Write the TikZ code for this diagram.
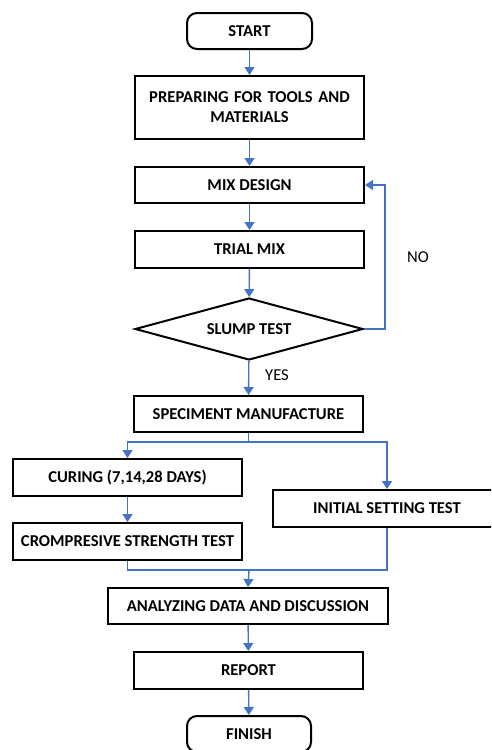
\documentclass[tikz,border=0pt]{standalone}
\usepackage{fontspec}
\setmainfont{Carlito}
\usetikzlibrary{arrows.meta,shapes.geometric}
\definecolor{flowblue}{HTML}{4472C4}
\tikzset{
  x=1pt,y=-1pt,
  box/.style={draw=black,line width=2pt,fill=white,minimum height=36pt,inner sep=2pt,
    align=center,font=\fontsize{16.6}{20}\selectfont\bfseries},
  term/.style={box,rounded corners=10pt},
  decision/.style={draw=black,line width=2pt,diamond,aspect=3.68,minimum width=228pt,minimum height=62pt,
    inner sep=0pt,font=\fontsize{16.6}{20}\selectfont\bfseries},
  flow/.style={draw=flowblue,line width=1.4pt,-{Triangle[width=10pt,length=8pt]}},
  link/.style={draw=flowblue,line width=1.4pt},
  lbl/.style={font=\fontsize{16.6}{20}\selectfont},
}
\begin{document}
\begin{tikzpicture}
\useasboundingbox (0,0) rectangle (491,750);
\clip (0,0) rectangle (491,750);
\node[term,minimum width=125pt,minimum height=36pt] (start) at (249.5,31) {START};
\node[box,minimum width=229pt,minimum height=63pt,text width=220pt] (prep) at (249.5,107.5) {PREPARING FOR TOOLS AND\\MATERIALS};
\node[box,minimum width=229pt] (mix) at (249.5,185) {MIX DESIGN};
\node[box,minimum width=229pt,minimum height=37pt] (trial) at (249.5,249.5) {TRIAL MIX};
\node[decision] (slump) at (249,329) {SLUMP TEST};
\node[box,minimum width=229pt] (spec) at (248.5,414) {SPECIMENT MANUFACTURE};
\node[box,minimum width=229pt,minimum height=37pt] (cur) at (127.5,477.5) {CURING (7,14,28 DAYS)};
\node[box,minimum width=229pt,minimum height=37pt] (comp) at (127.5,541.5) {CROMPRESIVE STRENGTH TEST};
\node[box,minimum width=228pt,minimum height=37pt] (init) at (387,508.5) {INITIAL SETTING TEST};
\node[box,minimum width=280pt] (ana) at (248,606) {ANALYZING DATA AND DISCUSSION};
\node[box,minimum width=229pt,minimum height=37pt] (rep) at (248.5,670.5) {REPORT};
\node[term,minimum width=124pt] (fin) at (249,734) {FINISH};
\node[lbl] (no) at (418,257) {NO};
\node[lbl] (yes) at (277,375) {YES};
\coordinate (split) at (248.5,442);
\coordinate (merge) at (249,570);
\draw[flow] (start) -- (prep);
\draw[flow] (prep) -- (mix);
\draw[flow] (mix) -- (trial);
\draw[flow] (trial) -- (slump);
\draw[flow] (slump) -- (spec);
\draw[flow] (slump.east) -- ++(21,0) |- (mix.east);
\draw[link] (spec.south) -- (split);
\draw[flow] (split) -| (cur.north);
\draw[flow] (split) -| (init.north);
\draw[flow] (cur) -- (comp);
\draw[link] (comp.south) |- (merge);
\draw[link] (init.south) |- (merge);
\draw[flow] (merge) -- (ana.north);
\draw[flow] (ana) -- (rep);
\draw[flow] (rep) -- (fin);
\end{tikzpicture}
\end{document}
